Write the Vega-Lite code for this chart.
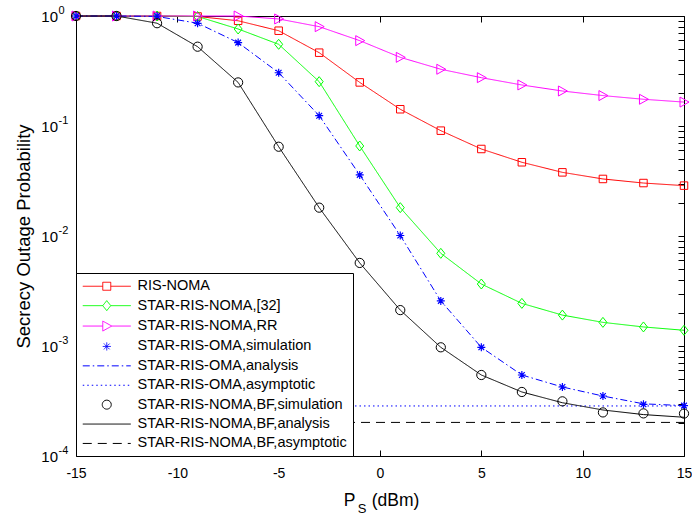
{
  "$schema": "https://vega.github.io/schema/vega-lite/v6.json",
  "width": 608,
  "height": 440,
  "autosize": {"type": "none"},
  "padding": {"left": 76, "top": 16, "right": 8, "bottom": 58},
  "background": "white",
  "config": {
    "view": {"stroke": "black", "strokeWidth": 1},
    "font": "Liberation Sans",
    "axis": {
      "grid": false,
      "domainColor": "black",
      "tickColor": "black",
      "labelColor": "black",
      "titleColor": "black",
      "labelFont": "Liberation Sans",
      "titleFont": "Liberation Sans",
      "labelFontSize": 14,
      "titleFontSize": 17.5,
      "titleFontWeight": "normal",
      "labelFlush": false,
      "labelOverlap": false
    },
    "legend": {
      "orient": "bottom-left",
      "offset": 0,
      "padding": 6,
      "strokeColor": "black",
      "fillColor": "white",
      "labelFont": "Liberation Sans",
      "labelFontSize": 14.5,
      "labelColor": "black",
      "labelLimit": 400,
      "symbolSize": 100,
      "symbolStrokeWidth": 1,
      "symbolOffset": 17.5,
      "labelOffset": 23.5,
      "rowPadding": 4.4,
      "symbolFillColor": "transparent"
    }
  },
  "data": {"values": [
    {"series": "RIS-NOMA", "x": -15, "y": 1}, {"series": "RIS-NOMA", "x": -13, "y": 1}, {"series": "RIS-NOMA", "x": -11, "y": 1}, {"series": "RIS-NOMA", "x": -9, "y": 0.99}, {"series": "RIS-NOMA", "x": -7, "y": 0.905}, {"series": "RIS-NOMA", "x": -5, "y": 0.735}, {"series": "RIS-NOMA", "x": -3, "y": 0.464}, {"series": "RIS-NOMA", "x": -1, "y": 0.249}, {"series": "RIS-NOMA", "x": 1, "y": 0.142}, {"series": "RIS-NOMA", "x": 3, "y": 0.0907}, {"series": "RIS-NOMA", "x": 5, "y": 0.0618}, {"series": "RIS-NOMA", "x": 7, "y": 0.0468}, {"series": "RIS-NOMA", "x": 9, "y": 0.0379}, {"series": "RIS-NOMA", "x": 11, "y": 0.033}, {"series": "RIS-NOMA", "x": 13, "y": 0.0303}, {"series": "RIS-NOMA", "x": 15, "y": 0.0287},
    {"series": "STAR-RIS-NOMA,[32]", "x": -15, "y": 1}, {"series": "STAR-RIS-NOMA,[32]", "x": -13, "y": 1}, {"series": "STAR-RIS-NOMA,[32]", "x": -11, "y": 1}, {"series": "STAR-RIS-NOMA,[32]", "x": -9, "y": 0.99}, {"series": "STAR-RIS-NOMA,[32]", "x": -7, "y": 0.762}, {"series": "STAR-RIS-NOMA,[32]", "x": -5, "y": 0.553}, {"series": "STAR-RIS-NOMA,[32]", "x": -3, "y": 0.253}, {"series": "STAR-RIS-NOMA,[32]", "x": -1, "y": 0.0658}, {"series": "STAR-RIS-NOMA,[32]", "x": 1, "y": 0.0181}, {"series": "STAR-RIS-NOMA,[32]", "x": 3, "y": 0.00696}, {"series": "STAR-RIS-NOMA,[32]", "x": 5, "y": 0.00366}, {"series": "STAR-RIS-NOMA,[32]", "x": 7, "y": 0.00244}, {"series": "STAR-RIS-NOMA,[32]", "x": 9, "y": 0.00191}, {"series": "STAR-RIS-NOMA,[32]", "x": 11, "y": 0.00164}, {"series": "STAR-RIS-NOMA,[32]", "x": 13, "y": 0.00149}, {"series": "STAR-RIS-NOMA,[32]", "x": 15, "y": 0.00139},
    {"series": "STAR-RIS-NOMA,RR", "x": -15, "y": 1}, {"series": "STAR-RIS-NOMA,RR", "x": -13, "y": 1}, {"series": "STAR-RIS-NOMA,RR", "x": -11, "y": 1}, {"series": "STAR-RIS-NOMA,RR", "x": -9, "y": 1}, {"series": "STAR-RIS-NOMA,RR", "x": -7, "y": 1}, {"series": "STAR-RIS-NOMA,RR", "x": -5, "y": 0.94}, {"series": "STAR-RIS-NOMA,RR", "x": -3, "y": 0.8}, {"series": "STAR-RIS-NOMA,RR", "x": -1, "y": 0.597}, {"series": "STAR-RIS-NOMA,RR", "x": 1, "y": 0.421}, {"series": "STAR-RIS-NOMA,RR", "x": 3, "y": 0.328}, {"series": "STAR-RIS-NOMA,RR", "x": 5, "y": 0.275}, {"series": "STAR-RIS-NOMA,RR", "x": 7, "y": 0.236}, {"series": "STAR-RIS-NOMA,RR", "x": 9, "y": 0.208}, {"series": "STAR-RIS-NOMA,RR", "x": 11, "y": 0.189}, {"series": "STAR-RIS-NOMA,RR", "x": 13, "y": 0.175}, {"series": "STAR-RIS-NOMA,RR", "x": 15, "y": 0.165},
    {"series": "STAR-RIS-OMA,simulation", "x": -15, "y": 1}, {"series": "STAR-RIS-OMA,simulation", "x": -13, "y": 1}, {"series": "STAR-RIS-OMA,simulation", "x": -11, "y": 1}, {"series": "STAR-RIS-OMA,simulation", "x": -9, "y": 0.858}, {"series": "STAR-RIS-OMA,simulation", "x": -7, "y": 0.573}, {"series": "STAR-RIS-OMA,simulation", "x": -5, "y": 0.305}, {"series": "STAR-RIS-OMA,simulation", "x": -3, "y": 0.124}, {"series": "STAR-RIS-OMA,simulation", "x": -1, "y": 0.0359}, {"series": "STAR-RIS-OMA,simulation", "x": 1, "y": 0.0101}, {"series": "STAR-RIS-OMA,simulation", "x": 3, "y": 0.00257}, {"series": "STAR-RIS-OMA,simulation", "x": 5, "y": 0.000973}, {"series": "STAR-RIS-OMA,simulation", "x": 7, "y": 0.000545}, {"series": "STAR-RIS-OMA,simulation", "x": 9, "y": 0.000424}, {"series": "STAR-RIS-OMA,simulation", "x": 11, "y": 0.000351}, {"series": "STAR-RIS-OMA,simulation", "x": 13, "y": 0.000295}, {"series": "STAR-RIS-OMA,simulation", "x": 15, "y": 0.000287},
    {"series": "STAR-RIS-OMA,analysis", "x": -15, "y": 1}, {"series": "STAR-RIS-OMA,analysis", "x": -13, "y": 1}, {"series": "STAR-RIS-OMA,analysis", "x": -11, "y": 0.99}, {"series": "STAR-RIS-OMA,analysis", "x": -9, "y": 0.86}, {"series": "STAR-RIS-OMA,analysis", "x": -7, "y": 0.573}, {"series": "STAR-RIS-OMA,analysis", "x": -5, "y": 0.305}, {"series": "STAR-RIS-OMA,analysis", "x": -3, "y": 0.124}, {"series": "STAR-RIS-OMA,analysis", "x": -1, "y": 0.0359}, {"series": "STAR-RIS-OMA,analysis", "x": 1, "y": 0.0101}, {"series": "STAR-RIS-OMA,analysis", "x": 3, "y": 0.00257}, {"series": "STAR-RIS-OMA,analysis", "x": 5, "y": 0.000973}, {"series": "STAR-RIS-OMA,analysis", "x": 7, "y": 0.000545}, {"series": "STAR-RIS-OMA,analysis", "x": 9, "y": 0.000424}, {"series": "STAR-RIS-OMA,analysis", "x": 11, "y": 0.000351}, {"series": "STAR-RIS-OMA,analysis", "x": 13, "y": 0.000298}, {"series": "STAR-RIS-OMA,analysis", "x": 15, "y": 0.000287},
    {"series": "STAR-RIS-OMA,asymptotic", "x": -15, "y": 0.000285}, {"series": "STAR-RIS-OMA,asymptotic", "x": 15, "y": 0.000285},
    {"series": "STAR-RIS-NOMA,BF,simulation", "x": -15, "y": 1}, {"series": "STAR-RIS-NOMA,BF,simulation", "x": -13, "y": 1}, {"series": "STAR-RIS-NOMA,BF,simulation", "x": -11, "y": 0.86}, {"series": "STAR-RIS-NOMA,BF,simulation", "x": -9, "y": 0.526}, {"series": "STAR-RIS-NOMA,BF,simulation", "x": -7, "y": 0.249}, {"series": "STAR-RIS-NOMA,BF,simulation", "x": -5, "y": 0.0648}, {"series": "STAR-RIS-NOMA,BF,simulation", "x": -3, "y": 0.0181}, {"series": "STAR-RIS-NOMA,BF,simulation", "x": -1, "y": 0.00569}, {"series": "STAR-RIS-NOMA,BF,simulation", "x": 1, "y": 0.00212}, {"series": "STAR-RIS-NOMA,BF,simulation", "x": 3, "y": 0.000973}, {"series": "STAR-RIS-NOMA,BF,simulation", "x": 5, "y": 0.000545}, {"series": "STAR-RIS-NOMA,BF,simulation", "x": 7, "y": 0.000382}, {"series": "STAR-RIS-NOMA,BF,simulation", "x": 9, "y": 0.000314}, {"series": "STAR-RIS-NOMA,BF,simulation", "x": 11, "y": 0.000249}, {"series": "STAR-RIS-NOMA,BF,simulation", "x": 13, "y": 0.000244}, {"series": "STAR-RIS-NOMA,BF,simulation", "x": 15, "y": 0.000243},
    {"series": "STAR-RIS-NOMA,BF,analysis", "x": -15, "y": 1}, {"series": "STAR-RIS-NOMA,BF,analysis", "x": -13, "y": 1}, {"series": "STAR-RIS-NOMA,BF,analysis", "x": -11, "y": 0.86}, {"series": "STAR-RIS-NOMA,BF,analysis", "x": -9, "y": 0.526}, {"series": "STAR-RIS-NOMA,BF,analysis", "x": -7, "y": 0.249}, {"series": "STAR-RIS-NOMA,BF,analysis", "x": -5, "y": 0.0648}, {"series": "STAR-RIS-NOMA,BF,analysis", "x": -3, "y": 0.0181}, {"series": "STAR-RIS-NOMA,BF,analysis", "x": -1, "y": 0.00569}, {"series": "STAR-RIS-NOMA,BF,analysis", "x": 1, "y": 0.00212}, {"series": "STAR-RIS-NOMA,BF,analysis", "x": 3, "y": 0.000973}, {"series": "STAR-RIS-NOMA,BF,analysis", "x": 5, "y": 0.000545}, {"series": "STAR-RIS-NOMA,BF,analysis", "x": 7, "y": 0.000382}, {"series": "STAR-RIS-NOMA,BF,analysis", "x": 9, "y": 0.000305}, {"series": "STAR-RIS-NOMA,BF,analysis", "x": 11, "y": 0.000262}, {"series": "STAR-RIS-NOMA,BF,analysis", "x": 13, "y": 0.000238}, {"series": "STAR-RIS-NOMA,BF,analysis", "x": 15, "y": 0.000225},
    {"series": "STAR-RIS-NOMA,BF,asymptotic", "x": -15, "y": 0.000202}, {"series": "STAR-RIS-NOMA,BF,asymptotic", "x": 15, "y": 0.000202}
  ]},
  "resolve": {"axis": {"x": "independent", "y": "independent"}},
  "layer": [
    {
      "transform": [{"filter": "datum.series != 'STAR-RIS-OMA,simulation' && datum.series != 'STAR-RIS-NOMA,BF,simulation'"}],
      "mark": {"type": "line", "strokeWidth": 1},
      "encoding": {
        "x": {"field": "x", "type": "quantitative", "scale": {"domain": [-15, 15], "nice": false, "zero": false},
          "axis": {"orient": "bottom", "values": [-15, -10, -5, 0, 5, 10, 15], "tickSize": -6, "labelPadding": 16, "title": "P", "titleX": 273, "titleY": 49, "titleAlign": "center", "titleBaseline": "alphabetic", "domain": false, "labelExpr": "datum.value < 0 ? '-' + abs(datum.value) : '' + datum.value"}},
        "y": {"field": "y", "type": "quantitative", "scale": {"type": "log", "domain": [0.0001, 1], "nice": false},
          "axis": {"orient": "left", "domain": false, "tickSize": 0, "labelPadding": 18.5, "labelFontSize": 15, "labelBaseline": "middle", "title": "Secrecy Outage Probability", "titleFontSize": 18.5, "titlePadding": 7,
            "values": [0.0001, 0.0002, 0.0003, 0.0004, 0.0005, 0.0006, 0.0007, 0.0008, 0.0009, 0.001, 0.002, 0.003, 0.004, 0.005, 0.006, 0.007, 0.008, 0.009, 0.01, 0.02, 0.03, 0.04, 0.05, 0.06, 0.07, 0.08, 0.09, 0.1, 0.2, 0.3, 0.4, 0.5, 0.6, 0.7, 0.8, 0.9, 1],
            "labelExpr": "abs(log(datum.value)/LN10 - round(log(datum.value)/LN10)) < 0.001 ? '10' : ''",
            "encode": {"ticks": {"update": {"x2": {"signal": "abs(log(datum.value)/LN10 - round(log(datum.value)/LN10)) < 0.001 ? 6 : 3"}}}}}},
        "color": {"field": "series", "type": "nominal",
          "scale": {"domain": ["RIS-NOMA", "STAR-RIS-NOMA,[32]", "STAR-RIS-NOMA,RR", "STAR-RIS-OMA,simulation", "STAR-RIS-OMA,analysis", "STAR-RIS-OMA,asymptotic", "STAR-RIS-NOMA,BF,simulation", "STAR-RIS-NOMA,BF,analysis", "STAR-RIS-NOMA,BF,asymptotic"],
            "range": ["#ff0000", "#00ff00", "#ff00ff", "#0000ff", "#0000ff", "#0000ff", "#000000", "#000000", "#000000"]},
          "legend": {"title": null}},
        "strokeDash": {"field": "series", "type": "nominal",
          "scale": {"domain": ["RIS-NOMA", "STAR-RIS-NOMA,[32]", "STAR-RIS-NOMA,RR", "STAR-RIS-OMA,simulation", "STAR-RIS-OMA,analysis", "STAR-RIS-OMA,asymptotic", "STAR-RIS-NOMA,BF,simulation", "STAR-RIS-NOMA,BF,analysis", "STAR-RIS-NOMA,BF,asymptotic"],
            "range": [[1, 0], [1, 0], [1, 0], [1, 0], [7, 3, 1.5, 3], [1.5, 3], [1, 0], [1, 0], [9, 6]]},
          "legend": {"title": null}}
      }
    },
    {
      "transform": [{"filter": "datum.series == 'RIS-NOMA'"}],
      "mark": {"type": "point", "filled": false, "shape": "M-0.75,-0.75H0.75V0.75H-0.75Z", "size": 100, "strokeWidth": 1, "opacity": 1},
      "encoding": {
        "x": {"field": "x", "type": "quantitative", "axis": {"orient": "top", "values": [-15, -10, -5, 0, 5, 10, 15], "tickSize": -6, "labels": false, "domain": false, "title": null}},
        "y": {"field": "y", "type": "quantitative", "axis": {"orient": "right", "domain": false, "labels": false, "title": null, "tickSize": -6,
            "values": [0.0001, 0.0002, 0.0003, 0.0004, 0.0005, 0.0006, 0.0007, 0.0008, 0.0009, 0.001, 0.002, 0.003, 0.004, 0.005, 0.006, 0.007, 0.008, 0.009, 0.01, 0.02, 0.03, 0.04, 0.05, 0.06, 0.07, 0.08, 0.09, 0.1, 0.2, 0.3, 0.4, 0.5, 0.6, 0.7, 0.8, 0.9, 1],
            "encode": {"ticks": {"update": {"x2": {"signal": "abs(log(datum.value)/LN10 - round(log(datum.value)/LN10)) < 0.001 ? -6 : -3"}}}}}},
        "color": {"field": "series", "type": "nominal", "legend": {"title": null}}
      }
    },
    {
      "transform": [{"filter": "datum.series == 'STAR-RIS-NOMA,[32]'"}],
      "mark": {"type": "point", "filled": false, "shape": "M0,-1L0.8,0L0,1L-0.8,0Z", "size": 100, "strokeWidth": 1, "opacity": 1},
      "encoding": {
        "x": {"field": "x", "type": "quantitative", "axis": {"orient": "bottom", "offset": 0, "ticks": false, "labels": false, "domain": false, "title": "S", "titleFontSize": 13, "titleX": 285.5, "titleY": 56, "titleAlign": "center", "titleBaseline": "alphabetic"}},
        "y": {"field": "y", "type": "quantitative", "axis": {"orient": "left", "offset": 0, "domain": false, "ticks": false, "tickSize": 0, "labelPadding": 18, "labelAlign": "left", "labelBaseline": "middle", "labelFontSize": 11, "labelOffset": -6, "title": null,
            "values": [0.0001, 0.001, 0.01, 0.1, 1],
            "labelExpr": "datum.value == 1 ? '0' : datum.value == 0.1 ? '-1' : datum.value == 0.01 ? '-2' : datum.value == 0.001 ? '-3' : '-4'"}},
        "color": {"field": "series", "type": "nominal", "legend": {"title": null}}
      }
    },
    {
      "transform": [{"filter": "datum.series == 'STAR-RIS-NOMA,RR'"}],
      "mark": {"type": "point", "filled": false, "shape": "M-0.8,-1L1,0L-0.8,1Z", "size": 100, "strokeWidth": 1, "opacity": 1},
      "encoding": {
        "x": {"field": "x", "type": "quantitative", "axis": {"orient": "bottom", "offset": 0, "ticks": false, "labels": false, "domain": false, "title": "(dBm)", "titleX": 319, "titleY": 49, "titleAlign": "center", "titleBaseline": "alphabetic"}},
        "y": {"field": "y", "type": "quantitative", "axis": null},
        "color": {"field": "series", "type": "nominal", "legend": {"title": null}}
      }
    },
    {
      "transform": [{"filter": "datum.series == 'STAR-RIS-OMA,simulation'"}],
      "mark": {"type": "point", "filled": false, "shape": "M-0.8,0H0.8M0,-0.8V0.8M-0.57,-0.57L0.57,0.57M-0.57,0.57L0.57,-0.57", "size": 100, "strokeWidth": 1.2, "opacity": 1},
      "encoding": {
        "x": {"field": "x", "type": "quantitative", "axis": null},
        "y": {"field": "y", "type": "quantitative", "axis": null},
        "color": {"field": "series", "type": "nominal", "legend": {"title": null}}
      }
    },
    {
      "transform": [{"filter": "datum.series == 'STAR-RIS-NOMA,BF,simulation'"}],
      "mark": {"type": "point", "filled": false, "shape": "circle", "size": 85, "strokeWidth": 1, "opacity": 1},
      "encoding": {
        "x": {"field": "x", "type": "quantitative", "axis": null},
        "y": {"field": "y", "type": "quantitative", "axis": null},
        "color": {"field": "series", "type": "nominal", "legend": {"title": null}}
      }
    },
    {
      "transform": [{"filter": "false"}],
      "mark": {"type": "point", "filled": false, "strokeWidth": 1, "opacity": 1},
      "encoding": {
        "color": {"field": "series", "type": "nominal", "legend": {"title": null}},
        "shape": {"field": "series", "type": "nominal",
          "scale": {"domain": ["RIS-NOMA", "STAR-RIS-NOMA,[32]", "STAR-RIS-NOMA,RR", "STAR-RIS-OMA,simulation", "STAR-RIS-OMA,analysis", "STAR-RIS-OMA,asymptotic", "STAR-RIS-NOMA,BF,simulation", "STAR-RIS-NOMA,BF,analysis", "STAR-RIS-NOMA,BF,asymptotic"],
            "range": [
              "M-4.8,0H-0.8M0.8,0H4.8M-0.8,-0.8H0.8V0.8H-0.8Z",
              "M-4.8,0H-0.8M0.8,0H4.8M0,-1L0.8,0L0,1L-0.8,0Z",
              "M-4.8,0H-0.8M1,0H4.8M-0.8,-1L1,0L-0.8,1Z",
              "M-0.8,0H0.8M0,-0.8V0.8M-0.57,-0.57L0.57,0.57M-0.57,0.57L0.57,-0.57",
              "M-4.8,0H4.8",
              "M-4.8,0H4.8",
              "M0.9,0A0.9,0.9 0 1,1 -0.9,0A0.9,0.9 0 1,1 0.9,0Z",
              "M-4.8,0H4.8",
              "M-4.8,0H4.8"
            ]},
          "legend": {"title": null}}
      }
    }
  ]
}
